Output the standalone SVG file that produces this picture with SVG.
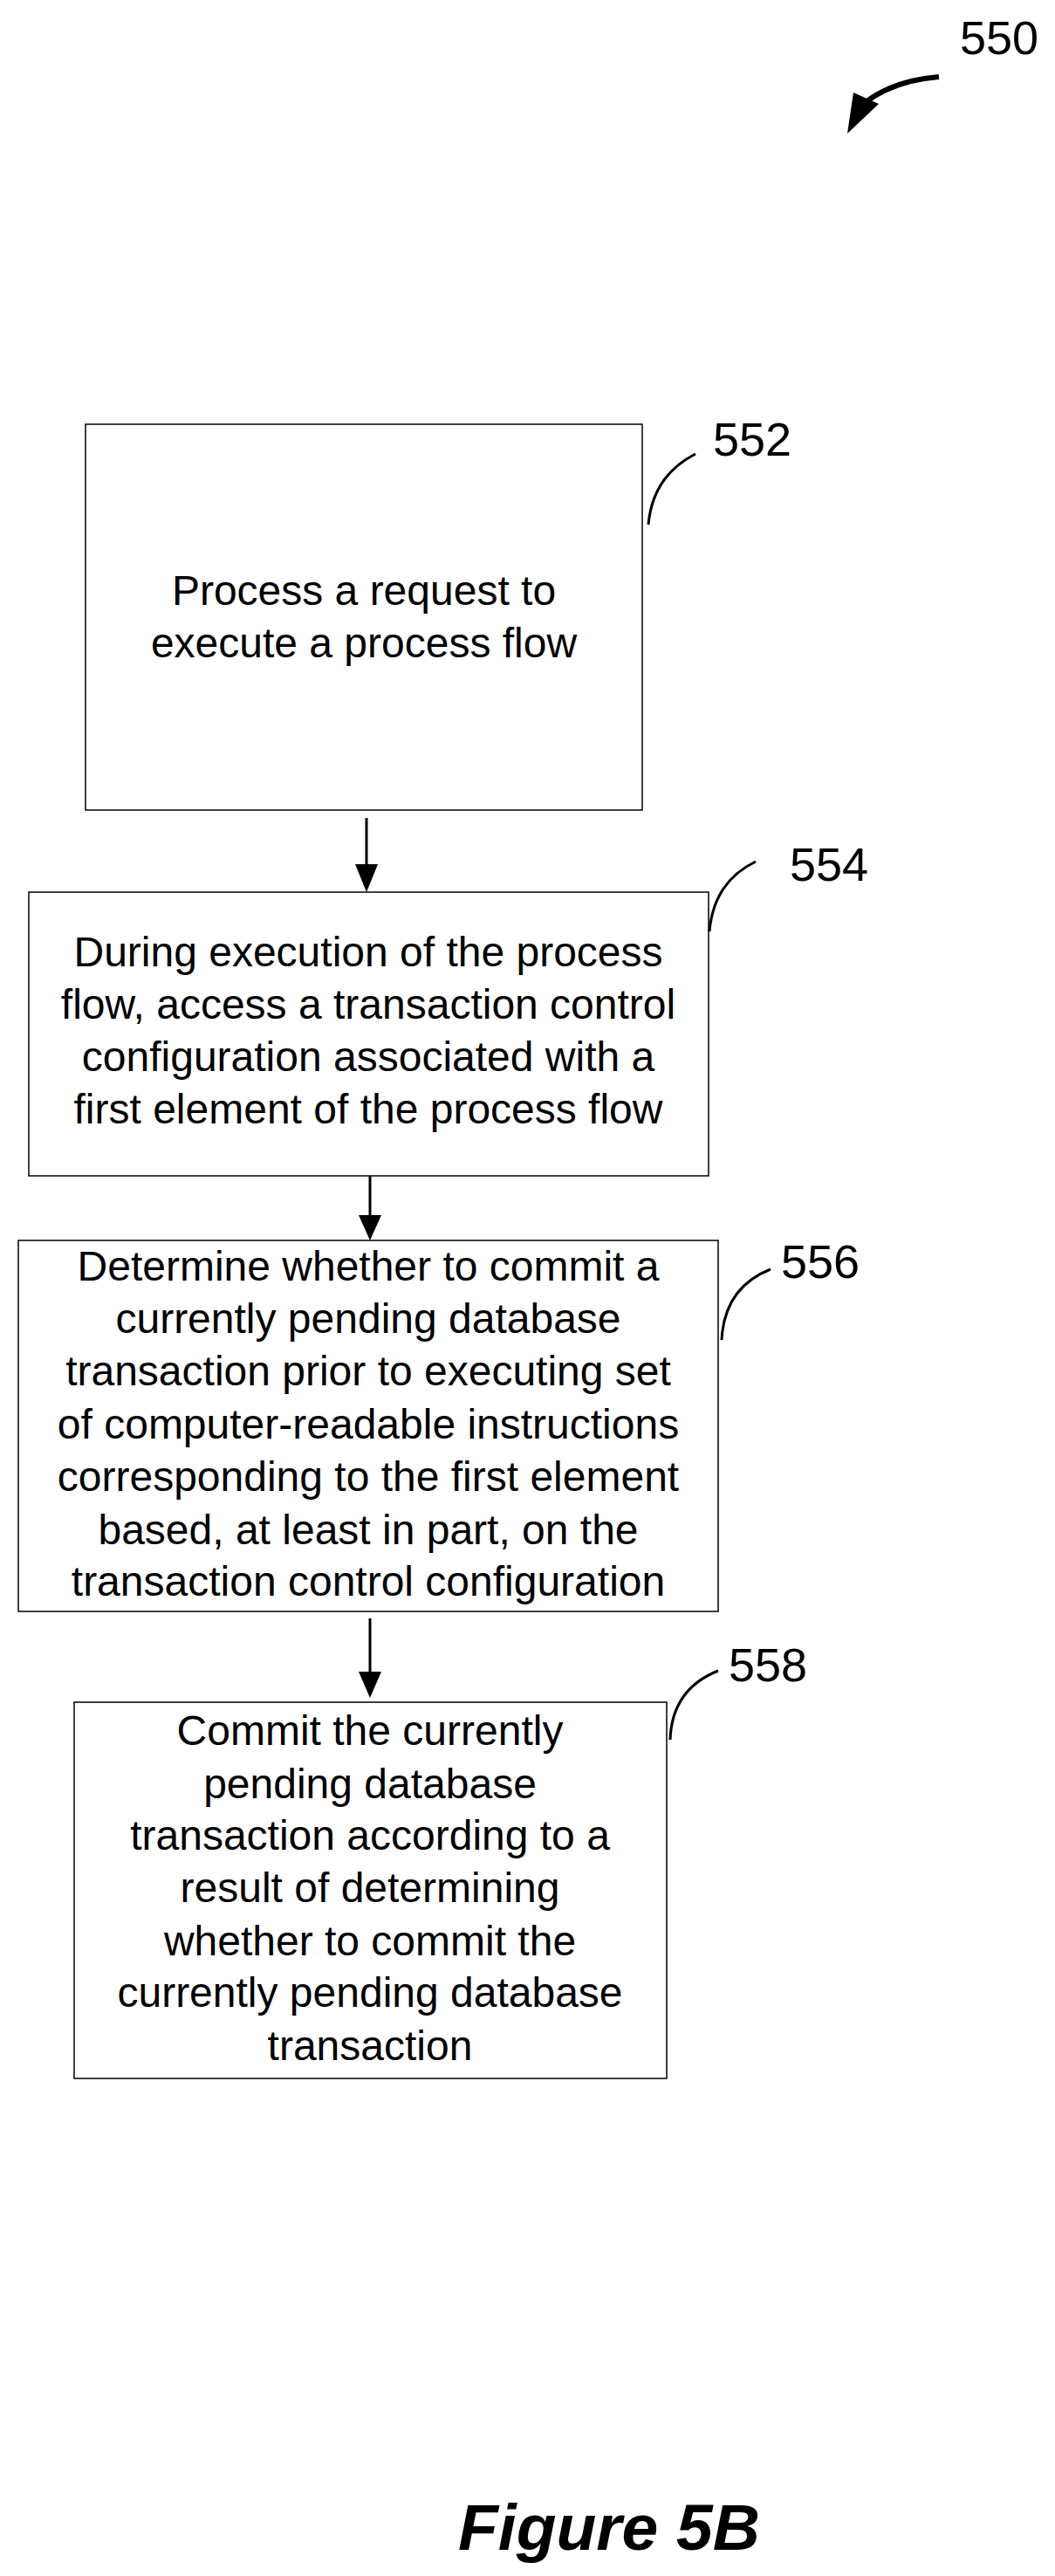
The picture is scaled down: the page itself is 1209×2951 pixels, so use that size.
<svg xmlns="http://www.w3.org/2000/svg" width="1209" height="2951" viewBox="0 0 1209 2951">
<style>
.box{fill:#fff;stroke:#000;stroke-width:1.5}
.t{font-family:"Liberation Sans",Arial,sans-serif;font-size:48px;text-anchor:middle;fill:#000}
.lbl{font-family:"Liberation Sans",Arial,sans-serif;font-size:54px;fill:#000}
.ld{fill:none;stroke:#000;stroke-width:3}
.con{stroke:#000;stroke-width:3;fill:none}
</style>
<defs>
<marker id="ah" markerWidth="10" markerHeight="10" refX="9" refY="5" orient="auto" markerUnits="userSpaceOnUse" viewBox="0 0 10 10">
<path d="M0,0 L10,5 L0,10 Z" fill="#000"/>
</marker>
</defs>
<rect width="1209" height="2951" fill="#fff"/>
<g id="ref550">
<text class="lbl" x="1100" y="62">550</text>
<path d="M1076,88 Q1025,92 992,117" fill="none" stroke="#000" stroke-width="6"/>
<polygon points="971,153 978,106 1007,119" fill="#000"/>
</g>
<g id="n552">
<rect class="box" x="98" y="486" width="638" height="442"/>
<text class="t" x="417" y="693">Process a request to</text>
<text class="t" x="417" y="753">execute a process flow</text>
<text class="lbl" x="817" y="522">552</text>
<path class="ld" d="M797,520 Q748,545 743,601"/>
</g>
<g id="n554">
<rect class="box" x="33" y="1022" width="779" height="325"/>
<text class="t" x="422" y="1107">During execution of the process</text>
<text class="t" x="422" y="1167">flow, access a transaction control</text>
<text class="t" x="422" y="1227">configuration associated with a</text>
<text class="t" x="422" y="1287">first element of the process flow</text>
<text class="lbl" x="905" y="1009">554</text>
<path class="ld" d="M866,987 Q818,1010 813,1067"/>
</g>
<g id="n556">
<rect class="box" x="21" y="1421" width="802" height="425"/>
<text class="t" x="422" y="1467">Determine whether to commit a</text>
<text class="t" x="422" y="1527">currently pending database</text>
<text class="t" x="422" y="1587">transaction prior to executing set</text>
<text class="t" x="422" y="1648">of computer-readable instructions</text>
<text class="t" x="422" y="1708">corresponding to the first element</text>
<text class="t" x="422" y="1769">based, at least in part, on the</text>
<text class="t" x="422" y="1828">transaction control configuration</text>
<text class="lbl" x="895" y="1464">556</text>
<path class="ld" d="M883,1454 Q830,1475 827,1535"/>
</g>
<g id="n558">
<rect class="box" x="85" y="1950" width="679" height="431"/>
<text class="t" x="424" y="1999">Commit the currently</text>
<text class="t" x="424" y="2060">pending database</text>
<text class="t" x="424" y="2119">transaction according to a</text>
<text class="t" x="424" y="2179">result of determining</text>
<text class="t" x="424" y="2240">whether to commit the</text>
<text class="t" x="424" y="2299">currently pending database</text>
<text class="t" x="424" y="2360">transaction</text>
<text class="lbl" x="835" y="1926">558</text>
<path class="ld" d="M823,1914 Q770,1935 768,1993"/>
</g>
<g id="connectors">
<path class="con" d="M420,937 V990"/>
<polygon points="420,1022 407,990 433,990" fill="#000"/>
<path class="con" d="M424,1347 V1392"/>
<polygon points="424,1421 411,1392 437,1392" fill="#000"/>
<path class="con" d="M424,1854 V1915"/>
<polygon points="424,1945 411,1915 437,1915" fill="#000"/>
</g>
<text x="525" y="2921" style="font-family:'Liberation Sans',Arial,sans-serif;font-size:75px;font-weight:bold;font-style:italic">Figure 5B</text>
</svg>
